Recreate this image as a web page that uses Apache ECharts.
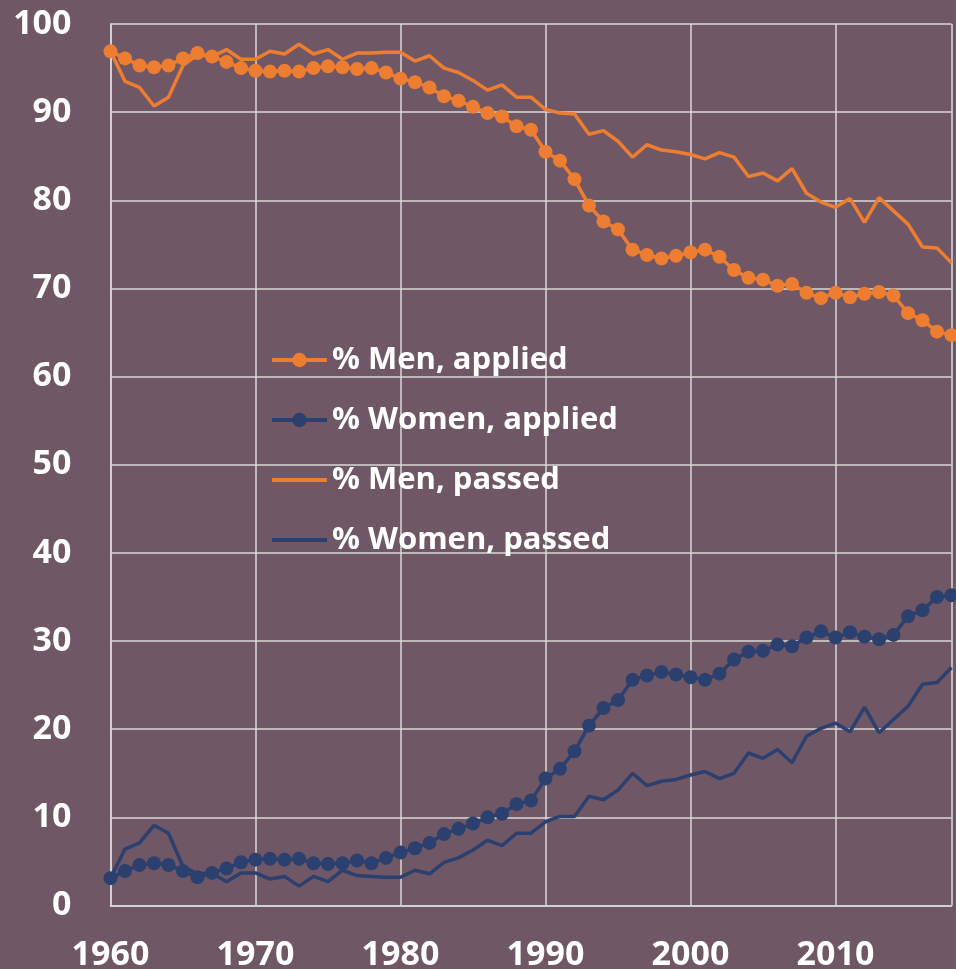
<!DOCTYPE html>
<html>
<head>
<meta charset="utf-8">
<script src="https://cdn.jsdelivr.net/npm/echarts@6/dist/echarts.min.js"></script>
<style>
html,body{margin:0;padding:0;background:#705766;}
#c{width:956px;height:969px;}
</style>
</head>
<body>
<div id="c"></div>
<script>
const years = [];
for (let y = 1960; y <= 2018; y++) years.push(y);

const menApplied = [96.9,96.1,95.3,95.1,95.3,96.1,96.7,96.3,95.7,95.0,
  94.7,94.6,94.7,94.6,95.0,95.2,95.1,94.9,95.0,94.5,
  93.8,93.4,92.8,91.8,91.3,90.6,89.9,89.5,88.4,88.0,
  85.5,84.5,82.4,79.4,77.6,76.7,74.4,73.8,73.4,73.7,
  74.1,74.4,73.6,72.1,71.2,71.0,70.3,70.5,69.5,68.9,
  69.5,69.0,69.4,69.6,69.2,67.2,66.4,65.1,64.7];

const womenApplied = [3.1,3.9,4.6,4.8,4.6,3.9,3.2,3.7,4.2,4.9,
  5.2,5.3,5.2,5.3,4.8,4.7,4.8,5.1,4.8,5.4,
  6.0,6.5,7.1,8.1,8.7,9.3,10.0,10.4,11.5,11.9,
  14.4,15.5,17.5,20.4,22.4,23.3,25.6,26.1,26.5,26.2,
  25.9,25.6,26.3,27.9,28.8,28.9,29.6,29.4,30.4,31.1,
  30.4,31.0,30.5,30.2,30.7,32.8,33.5,35.0,35.2];

const menPassed = [96.9,93.5,92.8,90.7,91.7,95.3,96.5,96.3,97.1,96.0,
  96.0,96.9,96.6,97.7,96.6,97.1,96.0,96.7,96.7,96.8,
  96.8,95.8,96.4,95.0,94.5,93.6,92.5,93.1,91.7,91.7,
  90.3,89.9,89.8,87.5,87.9,86.7,84.9,86.3,85.7,85.5,
  85.2,84.7,85.4,84.9,82.7,83.1,82.2,83.6,80.8,79.8,
  79.2,80.2,77.5,80.3,78.8,77.3,74.7,74.6,72.9];

const womenPassed = [3.1,6.4,7.1,9.1,8.2,4.4,3.6,3.7,2.7,3.7,
  3.7,3.0,3.3,2.2,3.3,2.7,4.0,3.4,3.3,3.2,
  3.2,4.0,3.6,4.9,5.4,6.3,7.4,6.8,8.2,8.2,
  9.5,10.1,10.1,12.4,12.0,13.1,15.0,13.6,14.1,14.3,
  14.8,15.2,14.4,15.0,17.3,16.7,17.7,16.2,19.2,20.1,
  20.7,19.7,22.5,19.6,21.1,22.6,25.1,25.3,27.0];

const yTicks = [0,10,20,30,40,50,60,70,80,90,100];
const xTicks = [1960,1970,1980,1990,2000,2010];

const ORANGE = '#ED7D31';
const NAVY = '#2B406E';
const GRID = '#D9D9D9';
const FONT = 'Open Sans';

function pairs(arr){ return years.map((y,i)=>[y,arr[i]]); }

const chart = echarts.init(document.getElementById('c'));
chart.setOption({
  backgroundColor: '#705766',
  animation: false,
  grid: { left: 110.5, right: 4.5, top: 24, bottom: 63.5, outerBoundsMode: 'none', containLabel: false },
  xAxis: {
    type: 'value', min: 1960, max: 2018, interval: 10,
    axisLine: { show: true, lineStyle: { color: GRID, width: 1.5 } },
    axisTick: { show: false },
    splitLine: { show: true, lineStyle: { color: GRID, width: 1.5 } },
    axisLabel: {
      color: '#ffffff', fontFamily: FONT, fontWeight: 'bold', fontSize: 34, margin: 33,
      formatter: v => xTicks.includes(v) ? String(v) : ''
    }
  },
  yAxis: {
    type: 'value', min: 0, max: 100, interval: 10,
    axisLine: { show: true, lineStyle: { color: GRID, width: 1.5 } },
    axisTick: { show: false },
    splitLine: { show: true, lineStyle: { color: GRID, width: 1.5 } },
    axisLabel: {
      color: '#ffffff', fontFamily: FONT, fontWeight: 'bold', fontSize: 34, margin: 39,
      formatter: v => yTicks.includes(v) ? String(v) : ''
    }
  },
  legend: {
    orient: 'vertical', left: 265, top: 339,
    itemWidth: 55, itemHeight: 18, itemGap: 28,
    lineStyle: { width: 4 },
    textStyle: { color: '#ffffff', fontFamily: FONT, fontWeight: 'bold', fontSize: 31, lineHeight: 32 },
    data: [
      { name: '% Men, applied' },
      { name: '% Women, applied' },
      { name: '% Men, passed', itemStyle: { opacity: 0 } },
      { name: '% Women, passed', itemStyle: { opacity: 0 } }
    ]
  },
  series: [
    { name: '% Men, passed', type: 'line', data: pairs(menPassed), symbol: 'none',
      lineStyle: { color: ORANGE, width: 3.5 }, itemStyle: { color: ORANGE }, z: 2 },
    { name: '% Women, passed', type: 'line', data: pairs(womenPassed), symbol: 'none',
      lineStyle: { color: NAVY, width: 3.5 }, itemStyle: { color: NAVY }, z: 2 },
    { name: '% Men, applied', type: 'line', data: pairs(menApplied), symbol: 'circle', symbolSize: 14,
      lineStyle: { color: ORANGE, width: 3.5 }, itemStyle: { color: ORANGE }, z: 3 },
    { name: '% Women, applied', type: 'line', data: pairs(womenApplied), symbol: 'circle', symbolSize: 14,
      lineStyle: { color: NAVY, width: 3.5 }, itemStyle: { color: NAVY }, z: 3 }
  ]
});
</script>
</body>
</html>
